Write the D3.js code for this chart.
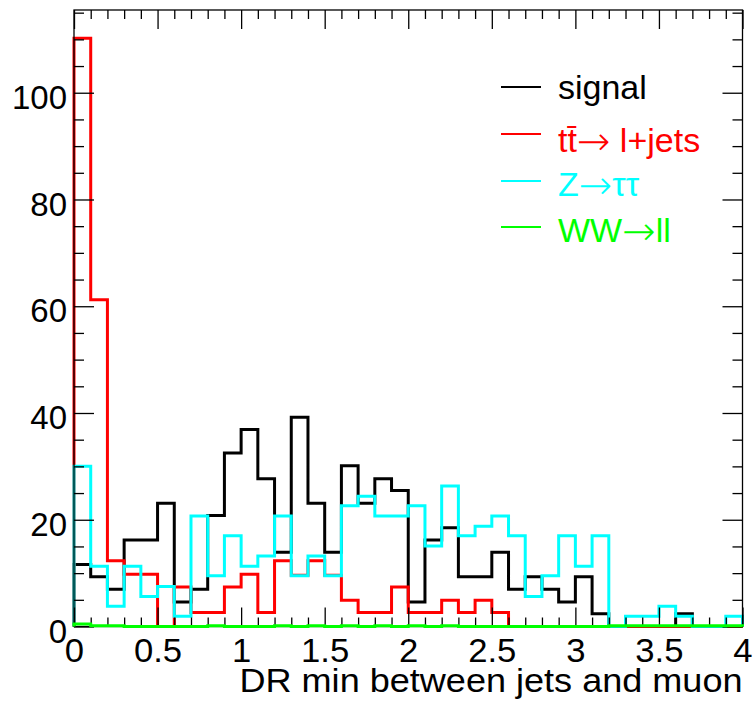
<!DOCTYPE html>
<html>
<head>
<meta charset="utf-8">
<script src="https://cdn.jsdelivr.net/npm/d3@7/dist/d3.min.js"></script>
<style>
  html, body { margin: 0; padding: 0; background: #ffffff; }
  svg { display: block; }
  text { font-family: "Liberation Sans", Arial, Helvetica, sans-serif; }
</style>
</head>
<body>
<svg id="chart" width="753" height="709"></svg>
<script>
// ---- data (bin width 0.1 from 0 to 4) ----
const xMin = 0, xMax = 4, nBins = 40;
const signal = [11.6, 9.3, 7.0, 16.2, 16.2, 23.1, 4.6, 7.0, 20.8, 32.5,
                36.9, 27.7, 13.9, 39.2, 23.1, 13.9, 30.1, 23.1, 27.7, 25.5,
                4.6, 16.2, 18.5, 9.3, 9.3, 13.9, 7.0, 9.3, 7.0, 4.6,
                9.3, 2.4, 0, 0, 0, 0, 2.4, 0, 0, 0];
const ttbar = [110.2, 61.2, 12.3, 9.8, 9.8, 0, 7.4, 2.6, 2.6, 7.4,
               9.8, 2.6, 12.3, 9.6, 12.3, 9.6, 4.9, 2.6, 2.6, 7.4,
               2.6, 2.6, 4.9, 2.6, 4.9, 2.6, 0, 0, 0, 0,
               0, 0, 0, 0, 0, 0, 0, 0, 0, 0];
const ztautau = [30.0, 11.3, 3.8, 11.3, 5.6, 7.5, 1.9, 20.7, 9.5, 17.0,
                 11.3, 13.2, 20.7, 9.5, 13.2, 9.5, 22.6, 24.4, 20.7, 20.7,
                 22.6, 15.1, 26.3, 17.0, 18.8, 20.7, 17.0, 5.6, 9.5, 17.0,
                 11.3, 17.0, 0, 1.9, 1.9, 3.8, 1.9, 0, 0, 1.9];
const wwll = [0.45, 0.15, 0.15, 0, 0, 0, 0, 0, 0.15, 0,
              0, 0, 0.15, 0, 0.15, 0, 0.15, 0, 0.15, 0,
              0.15, 0, 0.15, 0, 0, 0, 0, 0, 0, 0,
              0, 0, 0.15, 0.15, 0.15, 0.15, 0.15, 0.15, 0.15, 0.15];

const seriesNames = ["signal", "ttbar", "ztautau", "wwll"];
const seriesColors = ["#000000", "#ff0000", "#00ffff", "#00ff00"];
const seriesValues = [signal, ttbar, ztautau, wwll];

const xMajorTicks = [0, 0.5, 1, 1.5, 2, 2.5, 3, 3.5, 4];
const xTickLabels = ["0", "0.5", "1", "1.5", "2", "2.5", "3", "3.5", "4"];
const yMajorTicks = [0, 20, 40, 60, 80, 100];
const yTickLabels = ["0", "20", "40", "60", "80", "100"];
const yMax = 115.5;
const xTitle = "DR min between jets and muon";

// ---- layout ----
const svg = d3.select("#chart");
const L = 74, R = 742.5, T = 10, B = 626.5;
const x = d3.scaleLinear().domain([xMin, xMax]).range([L, R]);
const y = d3.scaleLinear().domain([0, yMax]).range([B, T]);
const binW = (xMax - xMin) / nBins;

function histPoints(vals) {
  const pts = [[xMin, 0]];
  vals.forEach((v, i) => {
    const x0 = xMin + i * binW, x1 = xMin + (i + 1) * binW;
    pts.push([x0, v]);
    pts.push([x1, v]);
  });
  pts.push([xMax, 0]);
  return pts;
}
const line = d3.line().x(d => x(d[0])).y(d => y(d[1]));
function drawHist(k) {
  svg.append("path")
    .attr("d", line(histPoints(seriesValues[k])))
    .attr("fill", "none")
    .attr("stroke", seriesColors[k])
    .attr("stroke-width", 3)
    .attr("stroke-linejoin", "miter");
}
[0, 1, 2].forEach(drawHist);

// ---- axes ----
const xMinorTicks = d3.range(0, 41).map(i => i / 10).filter(v => !xMajorTicks.some(m => Math.abs(m - v) < 1e-9));
const yMinorTicks = d3.range(0, 24).map(i => i * 5).filter(v => v <= yMax && !yMajorTicks.includes(v));

function styleAxis(g) {
  g.select(".domain").remove();
  g.selectAll(".tick line").attr("stroke", "#000").attr("stroke-width", 1.3);
}
svg.append("g").attr("transform", `translate(0,${B})`)
  .call(d3.axisBottom(x).tickValues(xMajorTicks).tickSize(-19).tickPadding(12)
        .tickFormat((d, i) => xTickLabels[i]))
  .call(styleAxis)
  .call(g => g.selectAll("text").attr("font-size", 33).attr("fill", "#000")
          .attr("transform", "scale(1.05,1)")
          .attr("font-family", "'Liberation Sans', Arial, sans-serif"));
svg.append("g").attr("transform", `translate(0,${B})`)
  .call(d3.axisBottom(x).tickValues(xMinorTicks).tickSize(-9).tickFormat(""))
  .call(styleAxis);
svg.append("g").attr("transform", `translate(0,${T})`)
  .call(d3.axisTop(x).tickValues(xMajorTicks).tickSize(-19).tickFormat(""))
  .call(styleAxis);
svg.append("g").attr("transform", `translate(0,${T})`)
  .call(d3.axisTop(x).tickValues(xMinorTicks).tickSize(-9).tickFormat(""))
  .call(styleAxis);
svg.append("g").attr("transform", `translate(${L},0)`)
  .call(d3.axisLeft(y).tickValues(yMajorTicks).tickSize(-20).tickPadding(7)
        .tickFormat((d, i) => yTickLabels[i]))
  .call(styleAxis)
  .call(g => g.selectAll("text").attr("font-size", 33).attr("fill", "#000")
          .attr("dy", "0.47em")
          .attr("font-family", "'Liberation Sans', Arial, sans-serif"));
svg.append("g").attr("transform", `translate(${L},0)`)
  .call(d3.axisLeft(y).tickValues(yMinorTicks).tickSize(-10).tickFormat(""))
  .call(styleAxis);
svg.append("g").attr("transform", `translate(${R},0)`)
  .call(d3.axisRight(y).tickValues(yMajorTicks).tickSize(-20).tickFormat(""))
  .call(styleAxis);
svg.append("g").attr("transform", `translate(${R},0)`)
  .call(d3.axisRight(y).tickValues(yMinorTicks).tickSize(-10).tickFormat(""))
  .call(styleAxis);

svg.append("rect").attr("x", L).attr("y", T).attr("width", R - L).attr("height", B - T)
  .attr("fill", "none").attr("stroke", "#000").attr("stroke-width", 1.3);

// WW drawn on top of the frame so it shows along the baseline
drawHist(3);

svg.append("text").attr("x", R).attr("y", 692).attr("text-anchor", "end")
  .attr("font-size", 34).attr("fill", "#000")
  .attr("textLength", 503).attr("lengthAdjust", "spacingAndGlyphs")
  .text(xTitle);

// ---- legend ----
const legendLabels = [
  [{t: "signal"}],
  [{t: "tt\u0304"}, {t: "\u2192", a: 1}, {t: " l+jets"}],
  [{t: "Z"}, {t: "\u2192", a: 1}, {t: "\u03c4\u03c4"}],
  [{t: "WW"}, {t: "\u2192", a: 1}, {t: "ll"}]
];
const legendLineY = [87, 134, 181, 227];
const legendBase = [99, 152, 196, 242];
const lg = svg.append("g");
legendLabels.forEach((parts, k) => {
  lg.append("line").attr("x1", 501).attr("x2", 541)
    .attr("y1", legendLineY[k]).attr("y2", legendLineY[k])
    .attr("stroke", seriesColors[k]).attr("stroke-width", 2);
  const t = lg.append("text").attr("x", 558).attr("y", legendBase[k])
    .attr("font-size", 34).attr("fill", seriesColors[k]);
  parts.forEach(p => {
    const ts = t.append("tspan").text(p.t);
    if (p.a) ts.attr("font-family", "'DejaVu Sans', sans-serif").attr("font-size", 40)
               .attr("font-weight", 300).attr("dy", 3);
    else if (parts.length > 1) ts.attr("dy", p === parts[0] ? 0 : -3);
  });
});
</script>
</body>
</html>
